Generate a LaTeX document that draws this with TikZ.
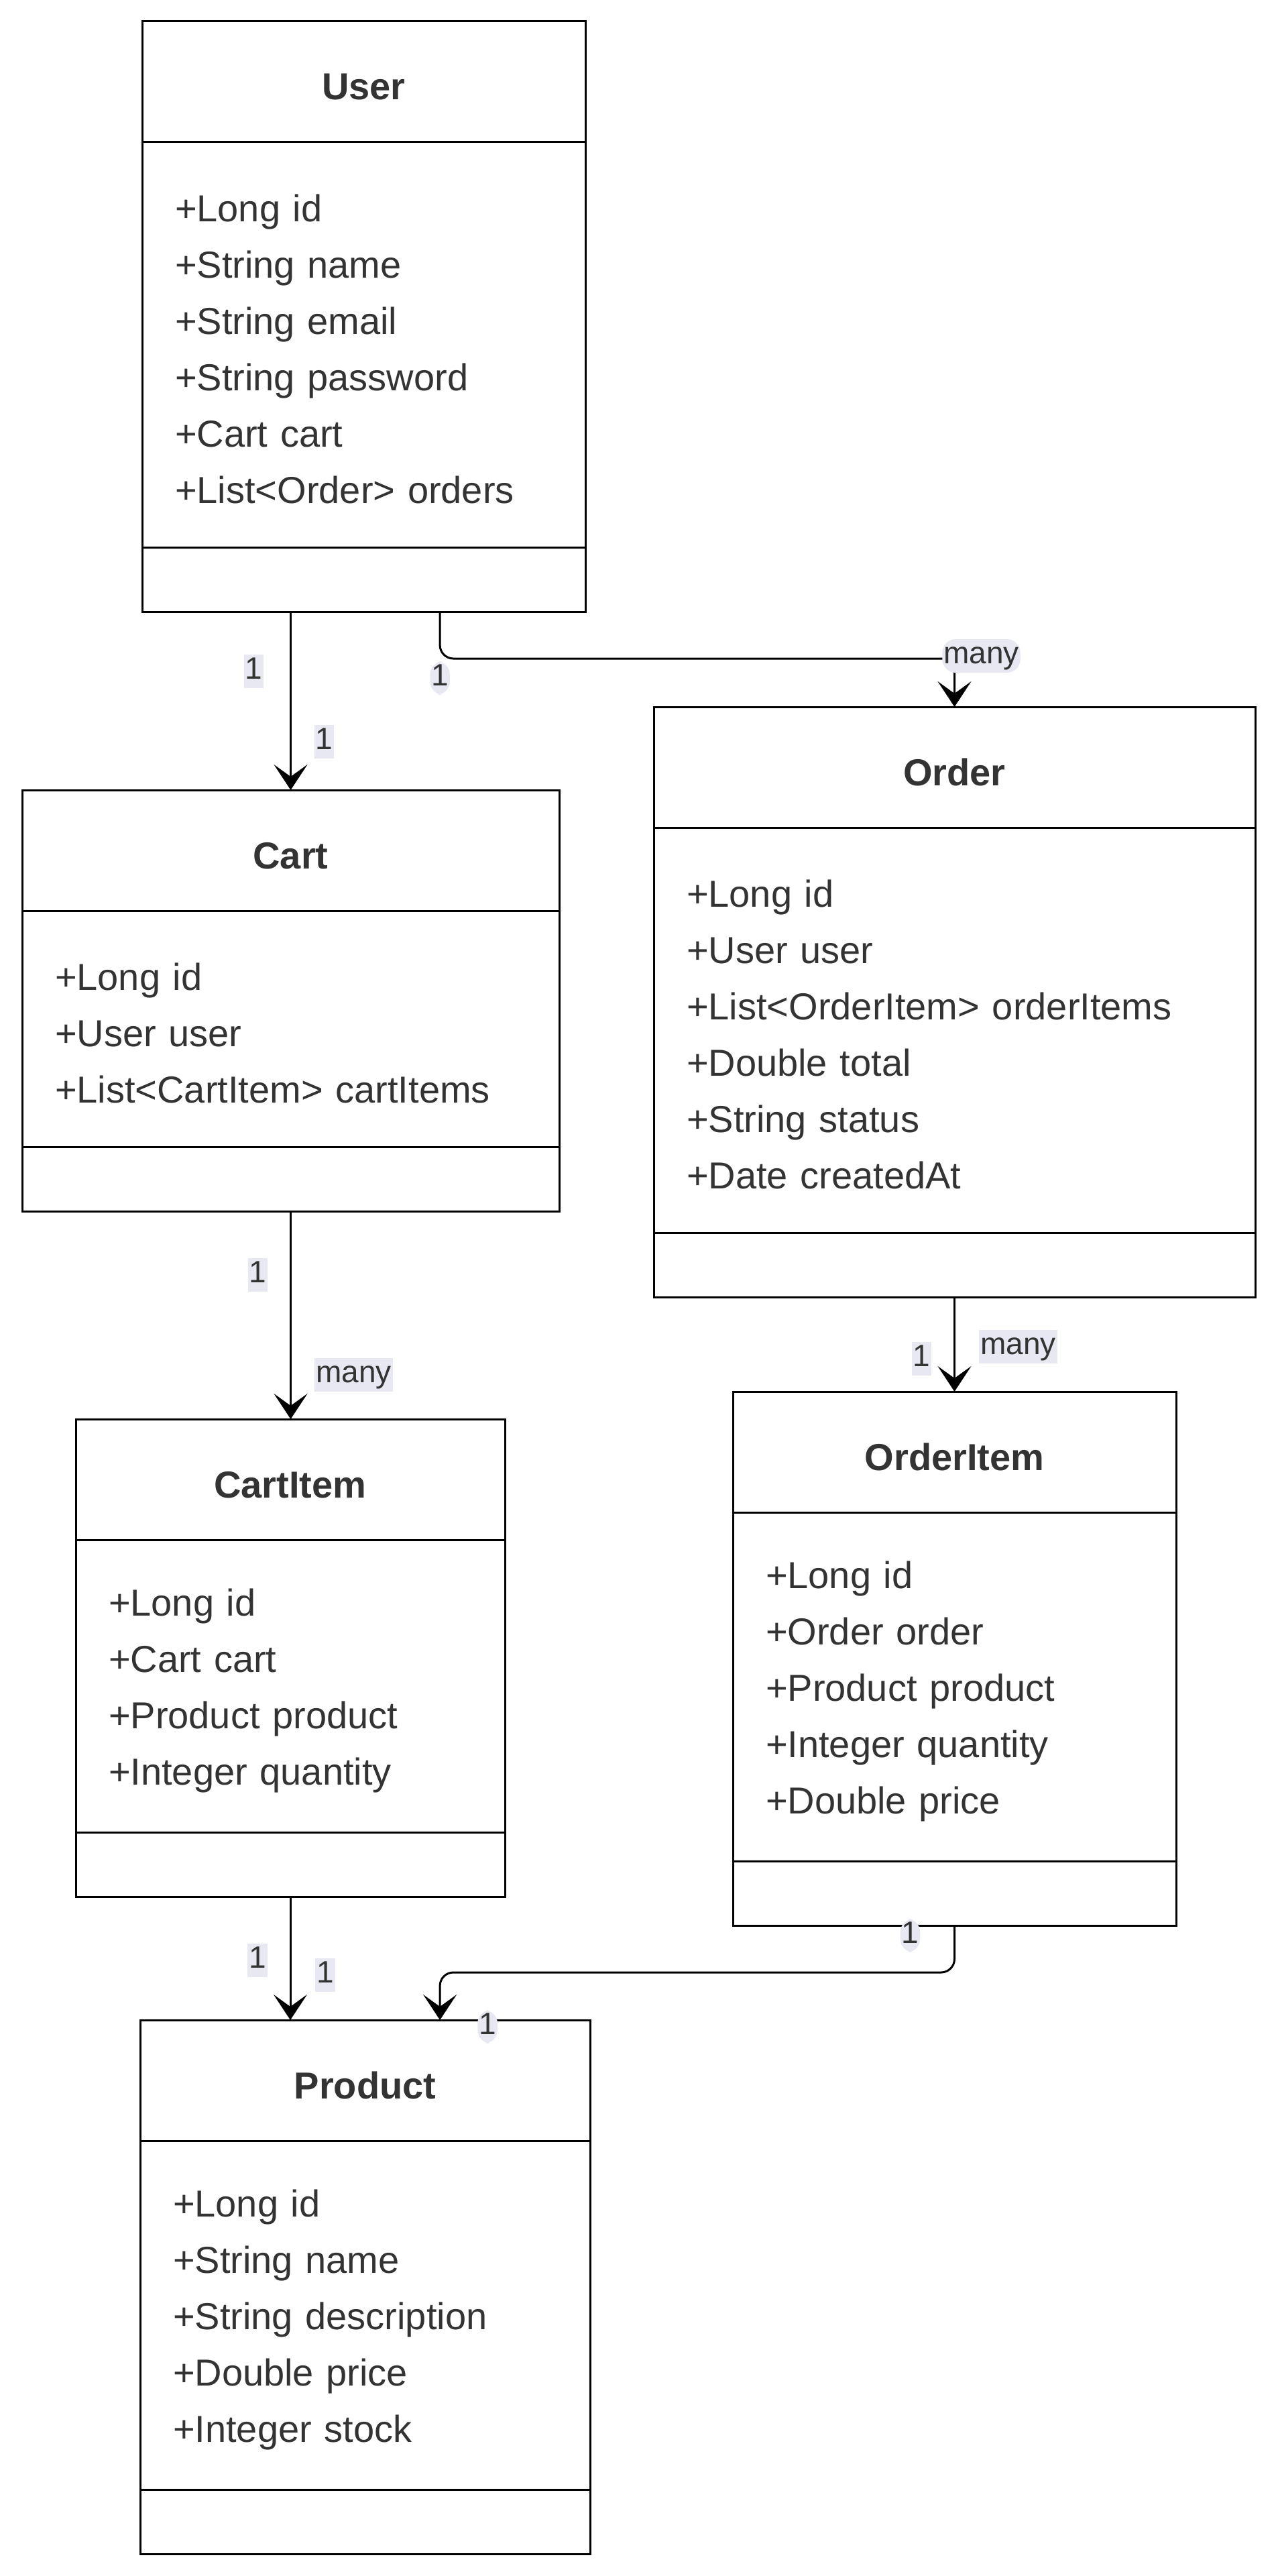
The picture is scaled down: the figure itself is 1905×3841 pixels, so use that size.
\documentclass[tikz,border=0pt]{standalone}
\usepackage{fontspec}
\setmainfont{Liberation Sans}
\usetikzlibrary{positioning}
\usetikzlibrary{arrows.meta}
\definecolor{umltext}{RGB}{51,51,51}
\definecolor{labelbg}{RGB}{232,232,242}
\tikzstyle{classhead}=[draw, line width=0.75pt, outer sep=0pt, minimum height=45pt, text height=13.5pt, text depth=0pt, font=\fontsize{14}{17}\selectfont\bfseries, text=umltext]
\tikzstyle{classattr}=[draw, line width=0.75pt, outer sep=0pt, inner xsep=12.25pt, inner ysep=0pt, align=left, execute at begin node={\rule{0pt}{13.5pt}}, font=\fontsize{14}{21}\selectfont, text=umltext]
\tikzstyle{classmeth}=[draw, line width=0.75pt, outer sep=0pt, minimum height=24pt]
\tikzstyle{assoc}=[line width=0.75pt, -{Stealth[length=9.5pt, width=12.5pt, inset=4.5pt]}]
\tikzstyle{mult}=[fill=labelbg, inner xsep=0.5pt, inner ysep=0.5pt, text height=8.6pt, text depth=2.9pt, font=\fontsize{11.5}{13}\selectfont, text=umltext]

\begin{document}
\begin{tikzpicture}[x=0.25pt, y=-0.25pt]
      \useasboundingbox (0, 0) rectangle (1905, 3841);

      \node[classhead, minimum width=165.25pt] (user) at (542.5, 122) {User};
      \node[classattr, text width=140.75pt, minimum height=151pt, below=0pt of user] (user_attr) {+Long id\\+String name\\+String email\\+String password\\+Cart cart\\+List<Order> orders};
      \node[classmeth, minimum width=165.25pt, below=0pt of user_attr] (user_meth) {};

      \node[classhead, minimum width=200.25pt] (cart) at (433.5, 1268) {Cart};
      \node[classattr, text width=175.75pt, minimum height=88pt, below=0pt of cart] (cart_attr) {+Long id\\+User user\\+List<CartItem> cartItems};
      \node[classmeth, minimum width=200.25pt, below=0pt of cart_attr] (cart_meth) {};

      \node[classhead, minimum width=224.25pt] (order) at (1423.5, 1144) {Order};
      \node[classattr, text width=199.75pt, minimum height=151pt, below=0pt of order] (order_attr) {+Long id\\+User user\\+List<OrderItem> orderItems\\+Double total\\+String status\\+Date createdAt};
      \node[classmeth, minimum width=224.25pt, below=0pt of order_attr] (order_meth) {};

      \node[classhead, minimum width=160pt] (cartitem) at (433, 2206) {CartItem};
      \node[classattr, text width=135.5pt, minimum height=109pt, below=0pt of cartitem] (cartitem_attr) {+Long id\\+Cart cart\\+Product product\\+Integer quantity};
      \node[classmeth, minimum width=160pt, below=0pt of cartitem_attr] (cartitem_meth) {};

      \node[classhead, minimum width=165.25pt] (orderitem) at (1423.5, 2165) {OrderItem};
      \node[classattr, text width=140.75pt, minimum height=130pt, below=0pt of orderitem] (orderitem_attr) {+Long id\\+Order order\\+Product product\\+Integer quantity\\+Double price};
      \node[classmeth, minimum width=165.25pt, below=0pt of orderitem_attr] (orderitem_meth) {};

      \node[classhead, minimum width=167.75pt] (product) at (544.5, 3102) {Product};
      \node[classattr, text width=143.25pt, minimum height=130pt, below=0pt of product] (product_attr) {+Long id\\+String name\\+String description\\+Double price\\+Integer stock};
      \node[classmeth, minimum width=167.75pt, below=0pt of product_attr] (product_meth) {};

      \draw[assoc] (user_meth.south -| cart.north) -- node[mult, pos=0.335, xshift=-13.75pt] {1} node[mult, pos=0.73, xshift=12.5pt] {1} (cart.north);
      \draw[assoc, rounded corners=5pt] ([xshift=28.4pt]user_meth.south) -- ++(0, 70) node[mult, at end, yshift=-7.25pt] {1} -| node[mult, pos=0.5, xshift=10pt, yshift=1pt] {many} (order.north);
      \draw[assoc] (cart_meth.south) -- node[mult, pos=0.306, xshift=-12.25pt] {1} node[mult, pos=0.787, xshift=23.5pt] {many} (cart_meth.south |- cartitem.north);
      \draw[assoc] (order_meth.south) -- node[mult, pos=0.65, xshift=-12.25pt] {1} node[mult, pos=0.525, xshift=23.75pt] {many} (orderitem.north);
      \draw[assoc] (cartitem_meth.south) -- node[mult, pos=0.516, xshift=-12.25pt] {1} node[mult, pos=0.636, xshift=13pt] {1} (cartitem_meth.south |- product.north);
      \draw[assoc, rounded corners=5pt] (orderitem_meth.south) node[mult, xshift=-16.5pt, yshift=-3.75pt] {1} -- ++(0, 70) -| ([xshift=27.9pt]product.north) node[mult, xshift=17.75pt, yshift=-2.5pt] {1};
    \end{tikzpicture}
\end{document}
